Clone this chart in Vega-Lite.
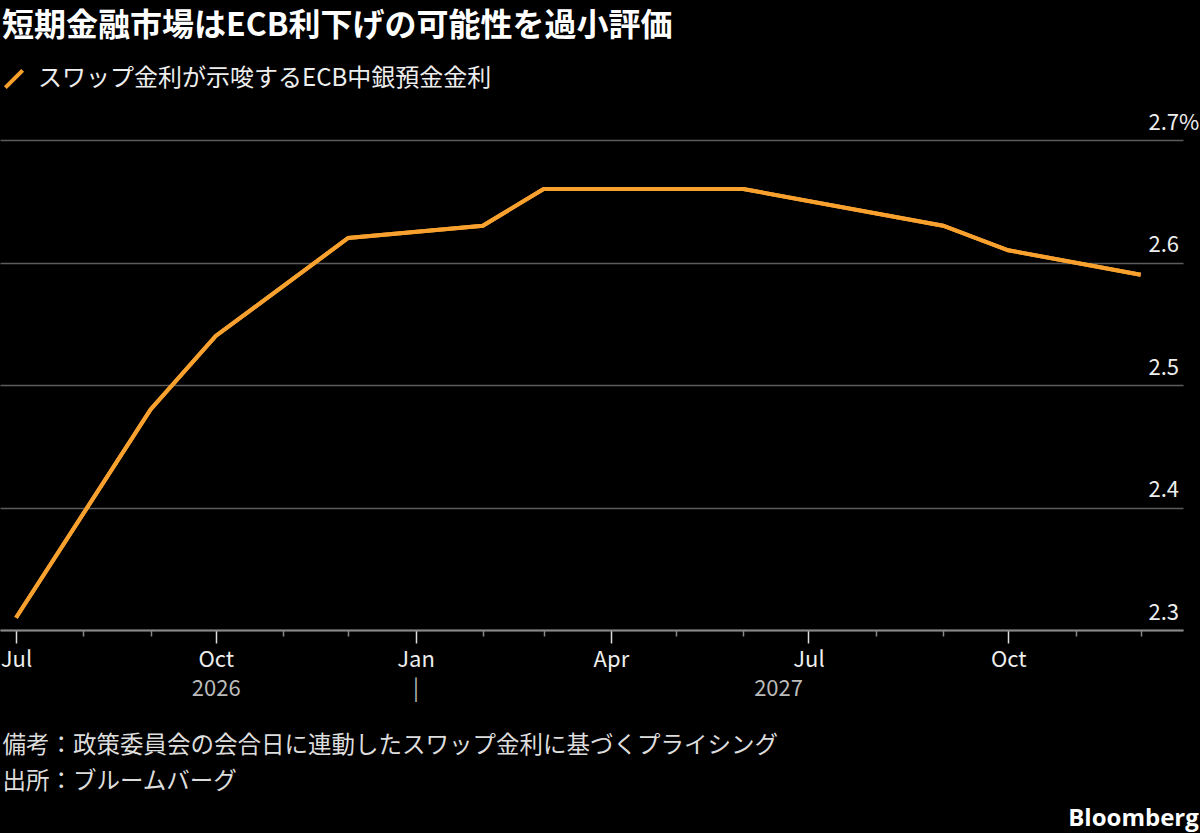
{
  "$schema": "https://vega.github.io/schema/vega-lite/v6.json",
  "width": 1183,
  "height": 490,
  "autosize": "none",
  "padding": {"left": 0, "top": 140, "right": 17, "bottom": 203},
  "background": "#000000",
  "title": {
    "text": "Bloomberg",
    "orient": "bottom",
    "anchor": "end",
    "frame": "bounds",
    "font": "Open Sans",
    "fontSize": 24,
    "fontWeight": "bold",
    "color": "#ffffff",
    "offset": 14
  },
  "data": {
    "values": [
      {"date": "2026-07-01", "rate": 2.31, "series": "スワップ金利が示唆するECB中銀預金金利"},
      {"date": "2026-09-01", "rate": 2.48, "series": "スワップ金利が示唆するECB中銀預金金利"},
      {"date": "2026-10-01", "rate": 2.54, "series": "スワップ金利が示唆するECB中銀預金金利"},
      {"date": "2026-12-01", "rate": 2.62, "series": "スワップ金利が示唆するECB中銀預金金利"},
      {"date": "2027-02-01", "rate": 2.63, "series": "スワップ金利が示唆するECB中銀預金金利"},
      {"date": "2027-03-01", "rate": 2.66, "series": "スワップ金利が示唆するECB中銀預金金利"},
      {"date": "2027-06-01", "rate": 2.66, "series": "スワップ金利が示唆するECB中銀預金金利"},
      {"date": "2027-09-01", "rate": 2.63, "series": "スワップ金利が示唆するECB中銀預金金利"},
      {"date": "2027-10-01", "rate": 2.61, "series": "スワップ金利が示唆するECB中銀預金金利"},
      {"date": "2027-12-01", "rate": 2.59, "series": "スワップ金利が示唆するECB中銀預金金利"}
    ]
  },
  "layer": [
    {
      "mark": {"type": "line", "strokeWidth": 4},
      "encoding": {
        "x": {
          "field": "date",
          "type": "temporal",
          "scale": {
            "type": "utc",
            "nice": false,
            "domain": [
              {"year": 2026, "month": 6, "date": 23, "hours": 15, "utc": true},
              {"year": 2027, "month": 12, "date": 20, "hours": 12, "utc": true}
            ]
          },
          "axis": {
            "orient": "bottom",
            "title": null,
            "grid": false,
            "tickCount": {"interval": "month", "step": 1},
            "labelExpr": "utcmonth(datum.value) % 3 == 0 ? utcFormat(datum.value, '%b') : ''",
            "tickSize": {"condition": {"test": "utcmonth(datum.value) % 3 == 0", "value": 13}, "value": 6},
            "tickColor": {"condition": {"test": "utcmonth(datum.value) % 3 == 0", "value": "#dddddd"}, "value": "#888888"},
            "tickWidth": 1.5,
            "domainColor": "#888888",
            "domainWidth": 2,
            "labelPadding": 6,
            "labelFont": "Noto Sans CJK JP",
            "labelFontSize": 22,
            "labelColor": "#eeeeee",
            "labelOverlap": false,
            "labelFlush": false
          }
        },
        "y": {
          "field": "rate",
          "type": "quantitative",
          "scale": {"domain": [2.3, 2.7], "nice": false, "zero": false},
          "axis": {
            "orient": "right",
            "title": null,
            "values": [2.3, 2.4, 2.5, 2.6, 2.7],
            "labelExpr": "datum.value == 2.7 ? '2.7%' : format(datum.value, '.1f')",
            "domain": false,
            "ticks": false,
            "grid": true,
            "gridColor": "#5c5c5c",
            "gridWidth": 1.5,
            "labelAlign": "left",
            "labelBaseline": "alphabetic",
            "labelPadding": -35,
            "labelOffset": -11,
            "labelFont": "Noto Sans CJK JP",
            "labelFontSize": 22,
            "labelColor": "#eeeeee"
          }
        },
        "color": {
          "field": "series",
          "type": "nominal",
          "scale": {"range": ["#f9a12e"]},
          "legend": {
            "orient": "none",
            "legendX": 2,
            "legendY": -129,
            "padding": 0,
            "title": "短期金融市場はECB利下げの可能性を過小評価",
            "titleFont": "Noto Sans CJK JP",
            "titleFontSize": 32,
            "titleFontWeight": "bold",
            "titleColor": "#ffffff",
            "titleLimit": 1100,
            "titlePadding": 24,
            "labelFont": "Noto Sans CJK JP",
            "labelFontSize": 24,
            "labelColor": "#eeeeee",
            "labelLimit": 800,
            "labelOffset": 12,
            "symbolType": "M-1,1L1,-1",
            "symbolSize": 300,
            "symbolStrokeWidth": 4
          }
        }
      }
    },
    {
      "mark": {"type": "line", "strokeWidth": 4, "color": "#f9a12e"},
      "encoding": {
        "x": {
          "field": "date",
          "type": "temporal",
          "axis": {
            "orient": "bottom",
            "values": [
              {"year": 2026, "month": 10, "date": 1, "utc": true},
              {"year": 2027, "month": 1, "date": 1, "utc": true},
              {"year": 2027, "month": 6, "date": 17, "utc": true}
            ],
            "labelExpr": "utcmonth(datum.value) == 0 ? '|' : utcyear(datum.value) + ''",
            "grid": false,
            "ticks": false,
            "domain": false,
            "labelPadding": 48,
            "labelFont": "Noto Sans CJK JP",
            "labelFontSize": 22,
            "labelColor": "#bbbbbb",
            "labelOverlap": false,
            "labelFlush": false,
            "title": [
              "備考：政策委員会の会合日に連動したスワップ金利に基づくプライシング",
              "出所：ブルームバーグ"
            ],
            "titleAnchor": "start",
            "titleAlign": "left",
            "titleBaseline": "top",
            "titleX": 2,
            "titleY": 103,
            "titleFont": "Noto Sans CJK JP",
            "titleFontSize": 23.5,
            "titleFontWeight": "normal",
            "titleColor": "#dddddd",
            "titleLineHeight": 36
          }
        },
        "y": {"field": "rate", "type": "quantitative"}
      }
    }
  ],
  "resolve": {"axis": {"x": "independent"}},
  "config": {"view": {"stroke": null}}
}
